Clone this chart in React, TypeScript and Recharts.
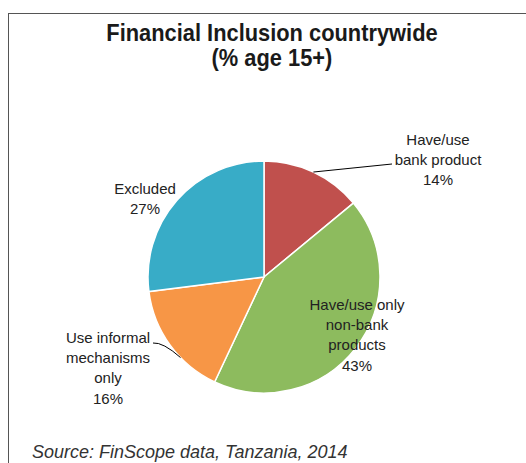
import { PieChart, Pie, Cell } from "recharts";

const CATEGORIES = [
  "Have/use bank product",
  "Have/use only non-bank products",
  "Use informal mechanisms only",
  "Excluded",
];
const SHARES = [14, 43, 16, 27];
const COLORS = ["#C0504D", "#8DBB5E", "#F79646", "#38ACC7"];

// label text lines per slice (category text wrapped as in the original)
const LABEL_LINES = [
  ["Have/use", "bank product"],
  ["Have/use only", "non-bank", "products"],
  ["Use informal", "mechanisms", "only"],
  ["Excluded"],
];

// label block placement relative to the pie centre (layout, not data)
const LABEL_LAYOUT = [
  { dx: 174, dy: -132, leader: true },
  { dx: 93, dy: 33, leader: false },
  { dx: -156, dy: 66, leader: true },
  { dx: -119, dy: -83, leader: false },
];

const data = CATEGORIES.map((name, i) => ({ name, value: SHARES[i] }));

const RAD = Math.PI / 180;
const LINE_H = 20.2;

const renderLabel = (props: any) => {
  const { cx, cy, index, value, outerRadius, midAngle } = props;
  const lay = LABEL_LAYOUT[index];
  const lines = [...LABEL_LINES[index], `${value}%`];
  const x = cx + lay.dx;
  const y0 = cy + lay.dy;
  let leader = null;
  if (lay.leader) {
    if (index === 0) {
      const a = midAngle * RAD;
      const sx = cx + outerRadius * Math.cos(a);
      const sy = cy - outerRadius * Math.sin(a);
      leader = <path d={`M${sx},${sy} L${x - 46},${y0 + 19}`} stroke="#000" fill="none" strokeWidth={1} />;
    } else {
      const a = (midAngle + 8) * RAD;
      const sx = cx + outerRadius * Math.cos(a);
      const sy = cy - outerRadius * Math.sin(a);
      leader = <path d={`M${x + 45},${y0} Q${x + 55},${y0 - 1} ${sx},${sy}`} stroke="#000" fill="none" strokeWidth={1} />;
    }
  }
  return (
    <g>
      {leader}
      <text x={x} y={y0} textAnchor="middle" fill="#222" fontSize={15} fontFamily="'Liberation Sans', Arial, sans-serif">
        {lines.map((l, k) => (
          <tspan key={k} x={x} dy={k === 0 ? 0 : LINE_H}>{l}</tspan>
        ))}
      </text>
    </g>
  );
};

export default function App() {
  return (
    <div style={{ position: "absolute", left: 0, top: 0, width: 526, height: 463, background: "#fff", overflow: "hidden" }}>
      <div style={{ position: "absolute", left: 8, top: 13, width: 600, height: 500, borderLeft: "1.5px solid #555", borderTop: "1.5px solid #555" }} />
      <div style={{ position: "absolute", left: 0, top: 20, width: 544, textAlign: "center", fontFamily: "'Liberation Sans', sans-serif", fontWeight: 700, fontSize: 24, lineHeight: "25px", color: "#1a1a1a", transform: "scaleX(0.91)", transformOrigin: "272px 0" }}>
        Financial Inclusion countrywide
        <br />
        (% age 15+)
      </div>
      <div style={{ position: "absolute", left: 0, top: 0 }}>
        <PieChart width={526} height={463} margin={{ top: 0, right: 0, bottom: 0, left: 0 }}>
          <Pie
            data={data}
            dataKey="value"
            nameKey="name"
            cx={264}
            cy={277}
            outerRadius={116}
            startAngle={90}
            endAngle={-270}
            stroke="#fff"
            strokeWidth={1.5}
            label={renderLabel}
            labelLine={false}
            isAnimationActive={false}
          >
            {data.map((d, i) => (
              <Cell key={d.name} fill={COLORS[i]} />
            ))}
          </Pie>
        </PieChart>
      </div>
      <div style={{ position: "absolute", left: 32, top: 442, fontFamily: "'Liberation Sans', sans-serif", fontStyle: "italic", fontSize: 18, color: "#333" }}>
        Source: FinScope data, Tanzania, 2014
      </div>
    </div>
  );
}
